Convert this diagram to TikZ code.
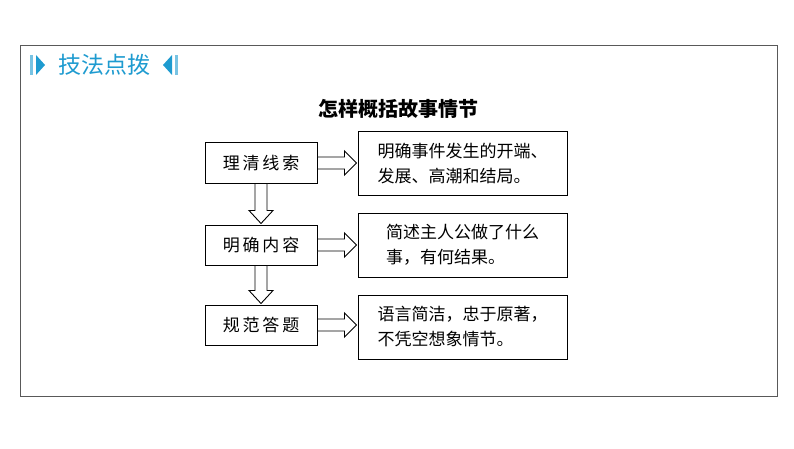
\documentclass[tikz,border=0pt]{standalone}
\usepackage{fontspec}
\setmainfont{Noto Sans CJK SC}
\definecolor{tblue}{HTML}{1E9BD0}
\begin{document}
\begin{tikzpicture}[x=1pt,y=-1pt,
  lbox/.style={draw,line width=1pt,minimum width=112pt,minimum height=40pt,inner sep=0pt,font=\fontsize{17}{20}\selectfont},
  rbox/.style={draw,line width=1pt,minimum width=209pt,minimum height=64pt,inner sep=0pt,font=\fontsize{17}{25}\selectfont,align=left},
  harr/.style={draw,line width=0.9pt,fill=white}]
\useasboundingbox (0,0) rectangle (794,449);
\fill[white] (0,0) rectangle (794,449);
\node[draw=gray!70!black,line width=0.8pt,minimum width=757pt,minimum height=351pt,inner sep=0pt] (frame) at (398.5,220.5) {};
% title icons
\fill[tblue!60] (30,55) rectangle (33,75);
\fill[tblue] (36,55) -- (45,65) -- (36,75) -- cycle;
\fill[tblue!60] (175,55) rectangle (178,75);
\fill[tblue] (172,55) -- (163,65) -- (172,75) -- cycle;
\node[text=tblue,font=\fontsize{23}{26}\selectfont] (title) at (104,65) {技法点拨};
\node[font=\fontsize{20}{24}\selectfont\bfseries] (head) at (398,109) {怎样概括故事情节};
\node[lbox] (l1) at (261,163) {理\,清\,线\,索};
\node[lbox] (l2) at (261,245) {明\,确\,内\,容};
\node[lbox] (l3) at (261,325) {规\,范\,答\,题};
\node[rbox] (r1) at (462.5,163.5) {明确事件发生的开端、\\发展、高潮和结局。};
\node[rbox] (r2) at (462.5,245) {简述主人公做了什么\\事，有何结果。};
\node[rbox] (r3) at (462.5,327) {语言简洁，忠于原著，\\不凭空想象情节。};
\foreach \a/\b in {l1/r1,l2/r2,l3/r3}{
  \draw[harr] ([yshift=-6pt]\a.east) -- ([xshift=-13pt,yshift=-6pt]\a.east-|\b.west) -- ([xshift=-13pt,yshift=-12pt]\a.east-|\b.west) -- ([xshift=-1pt]\a.east-|\b.west) -- ([xshift=-13pt,yshift=12pt]\a.east-|\b.west) -- ([xshift=-13pt,yshift=6pt]\a.east-|\b.west) -- ([yshift=6pt]\a.east) -- cycle;
}
\foreach \a/\b in {l1/l2,l2/l3}{
  \draw[harr] ([xshift=-6pt]\a.south) -- ([xshift=-6pt,yshift=14pt]\b.north) -- ([xshift=-12pt,yshift=14pt]\b.north) -- ([yshift=1pt]\b.north) -- ([xshift=12pt,yshift=14pt]\b.north) -- ([xshift=6pt,yshift=14pt]\b.north) -- ([xshift=6pt]\a.south) -- cycle;
}
\end{tikzpicture}
\end{document}
